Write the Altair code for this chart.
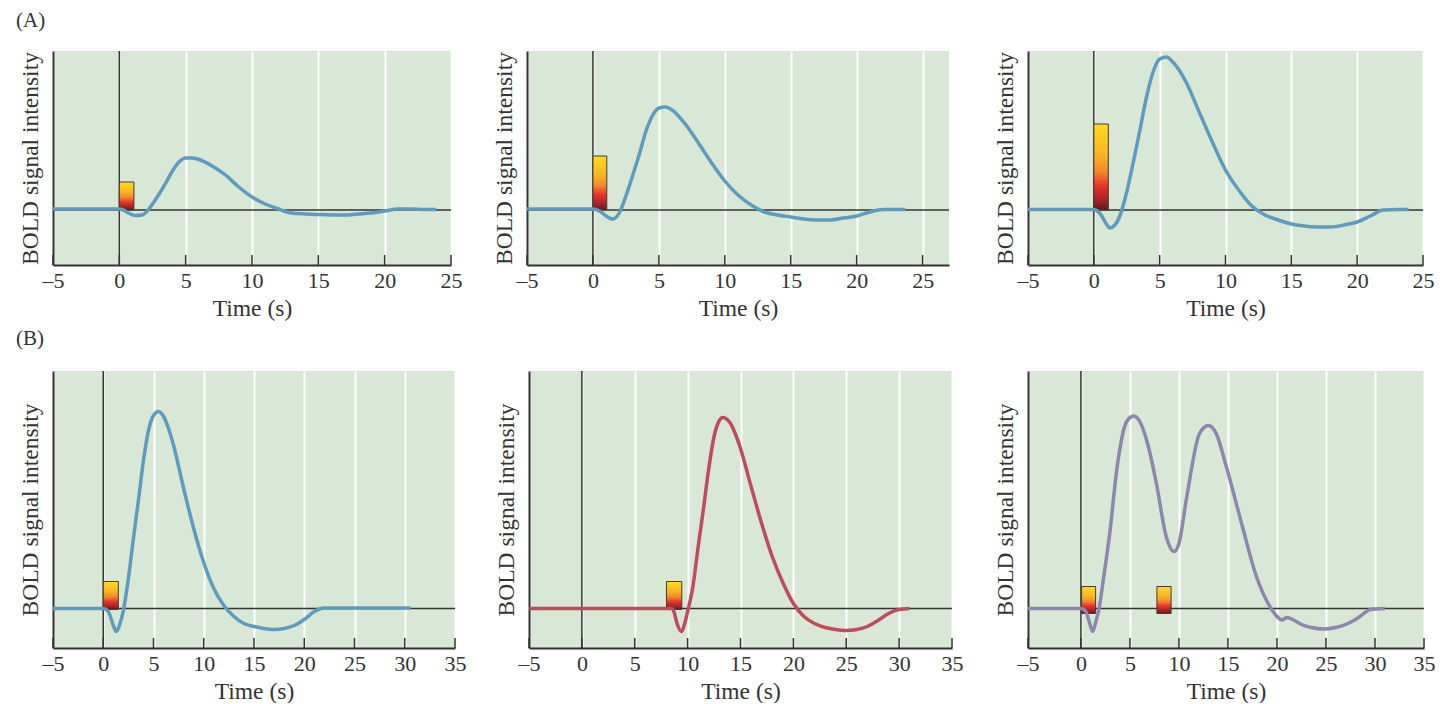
import altair as alt
import pandas as pd

FONT = "Liberation Serif"
GREEN = "#d9e7d6"
DARK = "#333333"
BLUE = "#5f9bbf"
RED = "#bf4c5e"
PURPLE = "#8b87ad"

ticks_a = [-5, 0, 5, 10, 15, 20, 25]
ticks_b = [-5, 0, 5, 10, 15, 20, 25, 30, 35]
ticks_b3 = [-5.4, 0, 5, 10, 15, 20, 25, 30, 35]

a1_t = [-5, -1, 0, 0.3, 0.7, 1.2, 1.7, 2, 2.5, 3, 3.5, 4, 4.5, 5, 5.5, 6, 7, 8, 9, 10, 11, 12, 12.5, 13, 14, 15, 17, 18, 19, 20, 21, 22, 23, 23.9]
a1_v = [1, 1, 1, 0, -3, -5.5, -5, -2.5, 6, 16, 27, 39, 48, 52, 52, 50.5, 44, 35, 23, 13, 6, 1, -1.5, -3, -4, -4.5, -5, -4, -3, -1, 1, 1, 0.5, 0.5]

a2_t = [-5, -1, 0, 0.5, 1, 1.5, 2, 2.5, 3, 3.5, 4, 4.5, 5, 5.5, 6, 7, 8, 9, 10, 11, 12, 13, 14, 15, 16, 17, 18, 19, 20, 21, 22, 23, 23.7]
a2_v = [1, 1, 1, -1, -6, -9, -3, 14, 34, 55, 78, 94, 102, 103, 100, 86, 67, 47, 29, 15, 5, -2, -5, -7, -9, -10, -10, -8, -6, -2, 0.5, 0.5, 0.5]

a3_t = [-5, -1, 0, 0.5, 1, 1.2, 1.6, 2, 2.5, 3, 3.5, 4, 4.5, 5, 5.5, 6, 7, 8, 9, 10, 11, 12, 13, 14, 15, 16, 17, 18, 19, 20, 21, 22, 23, 23.9]
a3_v = [0.5, 0.5, 0.5, -4, -15, -18, -15, -5, 18, 48, 80, 113, 138, 151, 153, 148, 128, 98, 68, 40, 20, 4, -5, -10, -14, -16, -17, -17, -15, -12, -6, 0, 0.5, 0.5]

b1_t = [-5, -1, 0, 0.5, 1, 1.3, 1.7, 2, 2.5, 3, 3.5, 4, 4.5, 5, 5.5, 6, 6.5, 7, 8, 9, 10, 11, 12, 13, 14, 15, 16, 17, 18, 19, 20, 21, 21.5, 22, 26, 30.6]
b1_v = [0, 0, 0, -3, -17, -23, -14, -2, 30, 70, 108, 148, 178, 193, 197, 192, 180, 163, 120, 80, 46, 20, 3, -8, -15, -18, -20, -21, -20, -17, -11, -3, -0.5, 0.5, 0.5, 0.5]

b2_t = [-5, 0, 5, 8.5, 8.7, 9, 9.4, 9.8, 10, 10.5, 11, 11.5, 12, 12.5, 13, 13.3, 14, 14.5, 15, 16, 17, 18, 19, 20, 21, 22, 23, 24, 25, 26, 27, 28, 29, 30, 31]
b2_v = [0, 0, 0, 0, -3, -15, -23, -12, -3, 22, 62, 100, 140, 172, 188, 191, 186, 175, 160, 122, 85, 52, 26, 5, -8, -15, -19, -21, -22, -21, -18, -12, -5, -1, 0]

b3_t = [-5.4, 0, 0.5, 0.9, 1.2, 1.5, 1.85, 2.3, 2.9, 3.7, 4.4, 5, 5.4, 6, 6.8, 7.7, 8.7, 9.5, 10, 10.8, 12.1, 13, 13.8, 14.8, 16.5, 17.8, 19.4, 20, 20.5, 21, 21.6, 22.5, 23.5, 24.8, 26, 27, 28, 29, 29.5, 31]
b3_v = [0, 0, -3, -15, -23, -14, 0, 30, 72, 142, 180, 191, 192.5, 187, 165, 125, 72, 57, 65, 112, 175, 183, 175, 143, 81, 35, 0, -8, -11.5, -9, -11, -16, -19, -20.5, -19, -16, -11, -4, -1, 0]

bars_a1 = [(0, 1.1, 0, 28)]
bars_a2 = [(0, 1.05, 0, 54)]
bars_a3 = [(0, 1.1, 0, 86)]
bars_b1 = [(0, 1.5, -1, 27)]
bars_b2 = [(8.0, 9.45, -1, 27)]
bars_b3 = [(0.07, 1.5, -5, 22), (7.75, 9.2, -5, 22)]

stops = [("#ffdc1e", 0), ("#f9b523", 0.35), ("#f08a2c", 0.55), ("#e8322a", 0.72), ("#a82428", 0.88), ("#5c1c1e", 1)]
gradient = alt.Gradient(
    gradient="linear",
    stops=[alt.GradientStop(color=c, offset=o) for c, o in stops],
    x1=0, x2=0, y1=0, y2=1,
)


def panel(t, v, bars, xdom, ydom, ticks, color, w, h, tag=None, tag_y=0):
    xs = alt.Scale(domain=xdom, nice=False, zero=False)
    ys = alt.Scale(domain=ydom, nice=False, zero=False)
    xaxis = alt.Axis(
        values=ticks, title="Time (s)", grid=True, gridColor="white", gridWidth=2,
        ticks=False, domain=True, domainColor=DARK, domainWidth=2,
        labelFont=FONT, labelFontSize=22, labelColor=DARK, labelPadding=5, labelOverlap=False,
        labelExpr="datum.value < 0 ? '\u20135' : datum.label", labelFlush=False,
        titleFont=FONT, titleFontSize=23.5, titleFontWeight="normal", titleColor=DARK, titlePadding=5,
    )
    yaxis = alt.Axis(
        title="BOLD signal intensity", grid=False, ticks=False, labels=False,
        domain=True, domainColor=DARK, domainWidth=2,
        titleFont=FONT, titleFontSize=23.5, titleFontWeight="normal", titleColor=DARK, titlePadding=11,
    )
    curve = pd.DataFrame({"t": t, "v": v})
    bdf = pd.DataFrame(bars, columns=["x0", "x1", "y0", "y1"])
    tdf = pd.DataFrame({"t": ticks})
    X = lambda f: alt.X(f, scale=xs, axis=xaxis)
    Y = lambda f: alt.Y(f, scale=ys, axis=yaxis)
    tick = alt.Chart(tdf).mark_rule(color=DARK, strokeWidth=1.5).encode(
        x=X("t:Q"), y=alt.value(h), y2=alt.value(h - 10))
    zero_v = alt.Chart(pd.DataFrame({"t": [0]})).mark_rule(color=DARK, strokeWidth=1.5).encode(x=X("t:Q"))
    zero_h = alt.Chart(pd.DataFrame({"v": [0]})).mark_rule(color=DARK, strokeWidth=1.5).encode(y=Y("v:Q"))
    rect = alt.Chart(bdf).mark_rect(fill=gradient, stroke="#463c2c", strokeWidth=1).encode(
        x=X("x0:Q"), x2="x1:Q", y=Y("y0:Q"), y2="y1:Q")
    line = alt.Chart(curve).mark_line(color=color, strokeWidth=3.5, interpolate="monotone").encode(
        x=X("t:Q"), y=Y("v:Q"))
    layers = [tick, zero_v, zero_h, rect, line]
    if tag:
        layers.append(alt.Chart(pd.DataFrame({"s": [tag]})).mark_text(
            font=FONT, fontSize=21, align="left", baseline="top", color=DARK
        ).encode(text="s:N", x=alt.value(-37), y=alt.value(tag_y)))
    return alt.layer(*layers).properties(width=w, height=h)


A1 = panel(a1_t, a1_v, bars_a1, [-5, 25], [-55, 159], ticks_a, BLUE, 398, 214, "(A)", -41)
A2 = panel(a2_t, a2_v, bars_a2, [-5, 27], [-55, 159], ticks_a, BLUE, 422, 214)
A3 = panel(a3_t, a3_v, bars_a3, [-5, 25], [-55, 159], ticks_a, BLUE, 395, 214)
B1 = panel(b1_t, b1_v, bars_b1, [-5, 35], [-39.5, 237.5], ticks_b, BLUE, 402, 277, "(B)", -43)
B2 = panel(b2_t, b2_v, bars_b2, [-5, 35], [-39.5, 237.5], ticks_b, RED, 423, 277)
B3 = panel(b3_t, b3_v, bars_b3, [-5.4, 35], [-39.5, 237.5], ticks_b3, PURPLE, 396, 277)

row_a = alt.hconcat(alt.hconcat(A1, A2, spacing=30), A3, spacing=43)
row_b = alt.hconcat(alt.hconcat(B1, B2, spacing=28), B3, spacing=30)

chart = alt.vconcat(row_a, row_b, spacing=8).properties(
    padding={"left": 8, "top": 2, "right": 0, "bottom": 0},
    background="white",
).configure_view(fill=GREEN, stroke=None)

chart.save("out.html", embed_options={"renderer": "svg", "actions": False})
